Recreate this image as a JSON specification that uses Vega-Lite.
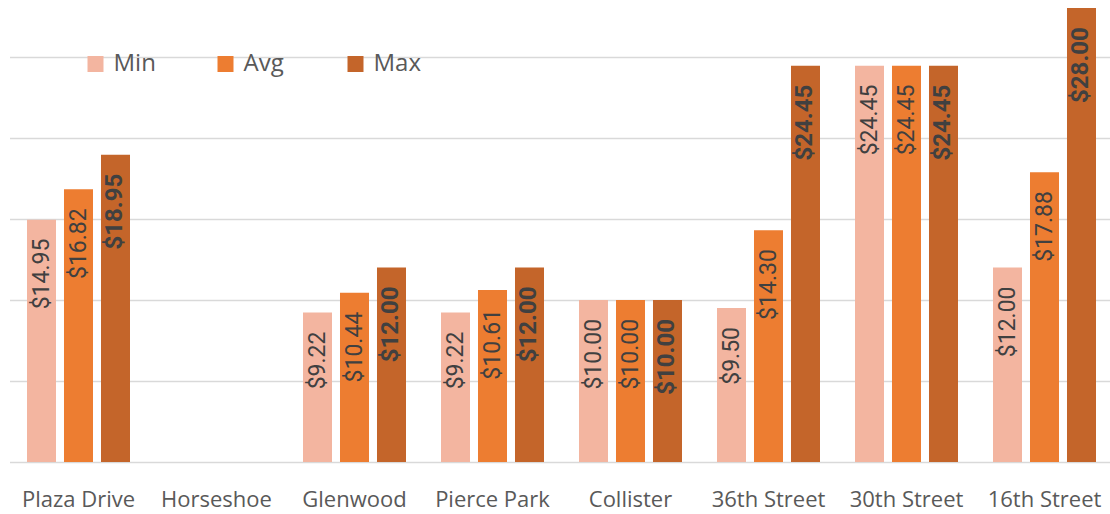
{
  "$schema": "https://vega.github.io/schema/vega-lite/v6.json",
  "autosize": {"type": "none"},
  "padding": {"left": 9.5, "top": 0, "right": 0, "bottom": 52},
  "width": 1104,
  "height": 462,
  "config": {"view": {"stroke": null}, "font": "Open Sans"},
  "data": {"values": [
    {"location": "Plaza Drive", "series": "Min", "value": 14.95},
    {"location": "Plaza Drive", "series": "Avg", "value": 16.82},
    {"location": "Plaza Drive", "series": "Max", "value": 18.95},
    {"location": "Glenwood", "series": "Min", "value": 9.22},
    {"location": "Glenwood", "series": "Avg", "value": 10.44},
    {"location": "Glenwood", "series": "Max", "value": 12.00},
    {"location": "Pierce Park", "series": "Min", "value": 9.22},
    {"location": "Pierce Park", "series": "Avg", "value": 10.61},
    {"location": "Pierce Park", "series": "Max", "value": 12.00},
    {"location": "Collister", "series": "Min", "value": 10.00},
    {"location": "Collister", "series": "Avg", "value": 10.00},
    {"location": "Collister", "series": "Max", "value": 10.00},
    {"location": "36th Street", "series": "Min", "value": 9.50},
    {"location": "36th Street", "series": "Avg", "value": 14.30},
    {"location": "36th Street", "series": "Max", "value": 24.45},
    {"location": "30th Street", "series": "Min", "value": 24.45},
    {"location": "30th Street", "series": "Avg", "value": 24.45},
    {"location": "30th Street", "series": "Max", "value": 24.45},
    {"location": "16th Street", "series": "Min", "value": 12.00},
    {"location": "16th Street", "series": "Avg", "value": 17.88},
    {"location": "16th Street", "series": "Max", "value": 28.00}
  ]},
  "encoding": {
    "x": {
      "field": "location", "type": "nominal",
      "scale": {"domain": ["Plaza Drive", "Horseshoe", "Glenwood", "Pierce Park", "Collister", "36th Street", "30th Street", "16th Street"], "paddingInner": 0, "paddingOuter": 0},
      "axis": {"title": null, "ticks": false, "domain": false, "labelAngle": 0, "labelFontSize": 22, "labelFont": "Open Sans", "labelColor": "#595959", "labelPadding": 27, "grid": false}
    },
    "xOffset": {
      "field": "series", "type": "nominal",
      "scale": {"domain": ["Min", "Avg", "Max"], "paddingInner": 0.216, "paddingOuter": 0.473}
    },
    "y": {
      "field": "value", "type": "quantitative",
      "scale": {"domain": [0, 28.5], "nice": false, "zero": true},
      "axis": {"title": null, "labels": false, "ticks": false, "domain": false, "values": [0, 5, 10, 15, 20, 25], "grid": true, "gridColor": "#d9d9d9", "gridWidth": 1.5}
    }
  },
  "layer": [
    {
      "mark": {"type": "bar"},
      "encoding": {
        "color": {
          "field": "series", "type": "nominal",
          "scale": {"domain": ["Min", "Avg", "Max"], "range": ["#F3B5A0", "#ED7D31", "#C4652A"]},
          "legend": {
            "title": null, "orient": "none", "legendX": 74, "legendY": 52,
            "direction": "horizontal", "columns": 3, "gridAlign": "all",
            "symbolType": "square", "symbolSize": 256, "symbolStrokeWidth": 0,
            "labelFontSize": 24, "labelFont": "Open Sans", "labelColor": "#595959",
            "labelOffset": 6, "columnPadding": 52
          }
        }
      }
    },
    {
      "transform": [{"filter": "datum.series !== 'Max'"}],
      "mark": {"type": "text", "angle": 270, "align": "right", "baseline": "middle", "dx": -19, "font": "Roboto", "fontSize": 23, "color": "#404040"},
      "encoding": {"text": {"field": "value", "type": "quantitative", "format": "$,.2f"}}
    },
    {
      "transform": [{"filter": "datum.series === 'Max'"}],
      "mark": {"type": "text", "angle": 270, "align": "right", "baseline": "middle", "dx": -19, "font": "Roboto", "fontSize": 24, "fontWeight": "bold", "color": "#404040"},
      "encoding": {"text": {"field": "value", "type": "quantitative", "format": "$,.2f"}}
    }
  ]
}
